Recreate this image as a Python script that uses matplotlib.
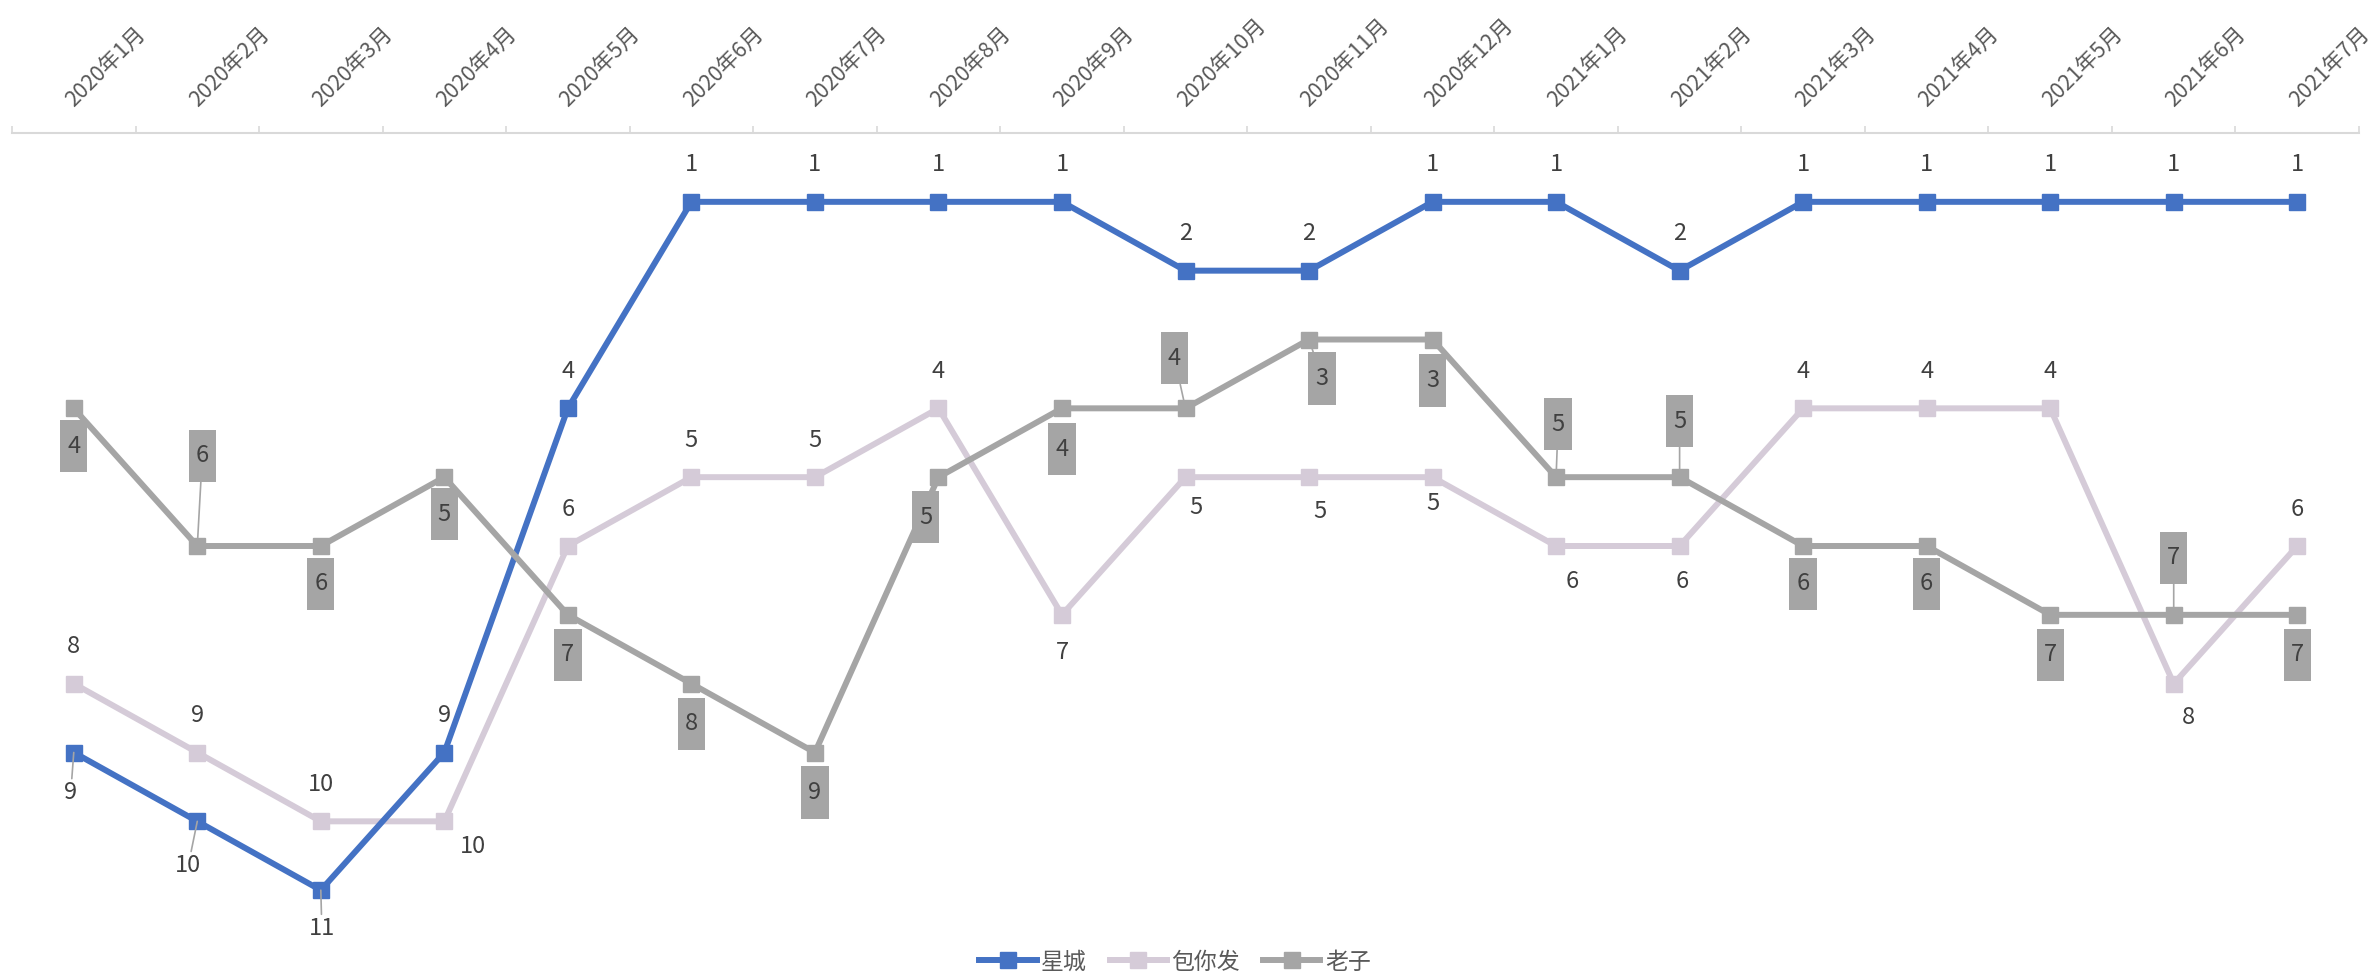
import numpy as np
import matplotlib
matplotlib.use("Agg")
import matplotlib.pyplot as plt
from matplotlib.path import Path

plt.rcParams["font.family"] = ["Noto Sans CJK SC", "DejaVu Sans"]
plt.rcParams["font.weight"] = "light"

months = ["2020年1月", "2020年2月", "2020年3月", "2020年4月", "2020年5月",
          "2020年6月", "2020年7月", "2020年8月", "2020年9月", "2020年10月",
          "2020年11月", "2020年12月", "2021年1月", "2021年2月", "2021年3月",
          "2021年4月", "2021年5月", "2021年6月", "2021年7月"]

xingcheng = [9, 10, 11, 9, 4, 1, 1, 1, 1, 2, 2, 1, 1, 2, 1, 1, 1, 1, 1]
baonifa = [8, 9, 10, 10, 6, 5, 5, 4, 7, 5, 5, 5, 6, 6, 4, 4, 4, 8, 6]
laozi = [4, 6, 6, 5, 7, 8, 9, 5, 4, 4, 3, 3, 5, 5, 6, 6, 7, 7, 7]

# label offsets in pixels (dx, dy; dy positive = down) and leader-line flags
UP = (0, -37)
blue_off = [(-3, 40), (-9, 44), (1, 38)] + [UP] * 16
blue_lead = [True, True, True] + [False] * 16
pink_off = [UP, UP, UP, (29, 25), UP, UP, UP, UP, (0, 38), (10, 30),
            (11, 34), (0, 26), (16, 36), (3, 35), UP, UP, UP, (15, 34), UP]
pink_lead = [False] * 19
gray_off = [(0, 38), (5, -90), (0, 38), (0, 37), (0, 40), (0, 40), (0, 40),
            (-13, 40), (0, 41), (-11, -50), (13, 39), (0, 41), (2, -53),
            (0, -56), (0, 38), (0, 38), (0, 40), (0, -57), (0, 40)]
gray_lead = [False, True, False, False, False, False, False, True, False,
             True, True, False, True, True, False, False, False, True, False]

BLUE = "#4472C4"
PINK = "#D5CBD8"
GRAY = "#A5A5A5"
TXT = "#404040"


def tall_box(x0, y0, width, height, mutation_size):
    # narrow, tall rectangle like the Excel label boxes
    px = 0.30 * mutation_size
    py = 0.62 * mutation_size
    x0, y0 = x0 - px, y0 - py
    x1, y1 = x0 + width + 2 * px, y0 + height + 2 * py
    return Path([(x0, y0), (x1, y0), (x1, y1), (x0, y1), (x0, y0)],
                closed=True)


W, H = 2379, 974
fig = plt.figure(figsize=(W / 100, H / 100), dpi=100)
ax = fig.add_axes([12 / W, 1 - 959 / H, (2359 - 12) / W, (959 - 133) / H])

x = np.arange(len(months))
l1, = ax.plot(x, xingcheng, color=BLUE, lw=4.3, marker="s", ms=11,
              zorder=4, label="星城")
l2, = ax.plot(x, baonifa, color=PINK, lw=4.3, marker="s", ms=11,
              zorder=3, label="包你发")
l3, = ax.plot(x, laozi, color=GRAY, lw=4.3, marker="s", ms=11,
              zorder=5, label="老子")

ax.set_xlim(-0.5, len(months) - 0.5)
ax.set_ylim(12, 0)

for s in ["left", "right", "bottom"]:
    ax.spines[s].set_visible(False)
ax.spines["top"].set_color("#D9D9D9")
ax.spines["top"].set_linewidth(1.5)
ax.set_yticks([])

ax.xaxis.tick_top()
ax.set_xticks(x)
ax.set_xticklabels(months, rotation=45, ha="left", va="baseline",
                   rotation_mode="anchor", fontsize=15.5, color="#595959")
ax.set_xticks(np.arange(-0.5, len(months), 1), minor=True)
ax.tick_params(axis="x", which="major", length=0, pad=18.5)
ax.tick_params(axis="x", which="minor", length=5, width=1.2,
               color="#D9D9D9", direction="out")


def add_labels(vals, offs, leads, boxed):
    for i, v in enumerate(vals):
        dx, dy = offs[i]
        kw = dict(xy=(x[i], v), xytext=(dx, -dy), textcoords="offset pixels",
                  ha="center", va="center", fontsize=17, color=TXT,
                  zorder=10)
        if boxed:
            kw["bbox"] = dict(boxstyle=tall_box, fc=GRAY, ec="none")
        elif leads[i]:
            kw["bbox"] = dict(boxstyle="square,pad=0.1", fc="none", ec="none")
        if leads[i]:
            kw["arrowprops"] = dict(arrowstyle="-", color=GRAY, lw=1.2,
                                    shrinkA=0, shrinkB=0)
        ax.annotate(str(v), **kw)


add_labels(xingcheng, blue_off, blue_lead, False)
add_labels(baonifa, pink_off, pink_lead, False)
add_labels(laozi, gray_off, gray_lead, True)

leg = fig.legend(handles=[l1, l2, l3], loc="center",
                 bbox_to_anchor=(1175 / W, 1 - 962 / H), ncol=3,
                 frameon=False, fontsize=16.5, handlelength=2.5,
                 handletextpad=0.2, columnspacing=1.0)
for t in leg.get_texts():
    t.set_color("#595959")

fig.savefig("out.png", dpi=100)
